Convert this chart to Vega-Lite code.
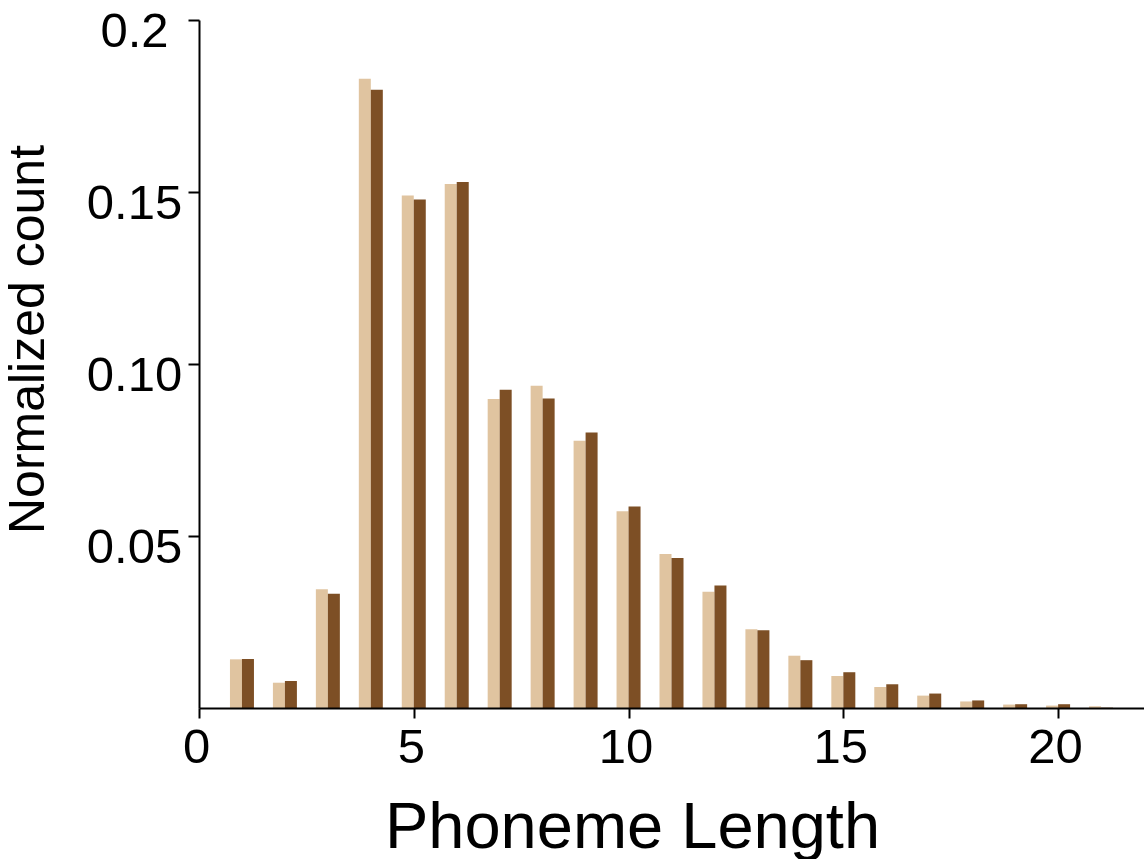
{
  "$schema": "https://vega.github.io/schema/vega-lite/v6.json",
  "autosize": "none",
  "width": 945,
  "height": 688,
  "padding": {"left": 199, "top": 20, "right": 0, "bottom": 151},
  "background": "white",
  "config": {
    "view": {"stroke": null},
    "font": "Liberation Sans"
  },
  "data": {
    "values": [
      {"length": 1, "a": 0.01415, "b": 0.01424},
      {"length": 2, "a": 0.00735, "b": 0.00785},
      {"length": 3, "a": 0.0345, "b": 0.0332},
      {"length": 4, "a": 0.1829, "b": 0.1797},
      {"length": 5, "a": 0.1490, "b": 0.1478},
      {"length": 6, "a": 0.1523, "b": 0.1529},
      {"length": 7, "a": 0.0898, "b": 0.0925},
      {"length": 8, "a": 0.0937, "b": 0.0900},
      {"length": 9, "a": 0.0777, "b": 0.0801},
      {"length": 10, "a": 0.0572, "b": 0.0586},
      {"length": 11, "a": 0.0448, "b": 0.0436},
      {"length": 12, "a": 0.0338, "b": 0.0356},
      {"length": 13, "a": 0.0229, "b": 0.0226},
      {"length": 14, "a": 0.0152, "b": 0.0139},
      {"length": 15, "a": 0.0093, "b": 0.0104},
      {"length": 16, "a": 0.0061, "b": 0.0069},
      {"length": 17, "a": 0.0036, "b": 0.0042},
      {"length": 18, "a": 0.0019, "b": 0.0022},
      {"length": 19, "a": 0.0010, "b": 0.0011},
      {"length": 20, "a": 0.0007, "b": 0.0011},
      {"length": 21, "a": 0.0005, "b": 0.0001}
    ]
  },
  "layer": [
    {
      "mark": {"type": "bar", "width": 12, "xOffset": -6, "color": "#e0c4a0"},
      "encoding": {
        "x": {
          "field": "length", "type": "quantitative",
          "scale": {"domain": [0, 22], "nice": false, "zero": true, "padding": 0},
          "axis": {
            "title": "Phoneme Length",
            "values": [0, 5, 10, 15, 20],
            "format": "d",
            "grid": false,
            "zindex": 1,
            "domainColor": "black", "domainWidth": 2,
            "tickColor": "black", "tickWidth": 2, "tickSize": 10,
            "labelFont": "Liberation Sans", "labelFontSize": 49, "labelColor": "black",
            "labelPadding": 5, "labelFlush": false, "labelOffset": -3,
            "titleFont": "Liberation Sans", "titleFontSize": 65, "titleFontWeight": "normal", "titleColor": "black",
            "titleX": 433, "titleY": 139, "titleBaseline": "alphabetic", "titleAlign": "center", "titleAnchor": null
          }
        },
        "y": {
          "field": "a", "type": "quantitative",
          "scale": {"domain": [0, 0.2], "nice": false},
          "axis": {
            "title": "Normalized count",
            "values": [0.05, 0.1, 0.15, 0.2],
            "labelExpr": "datum.value == 0.2 ? '0.2' : format(datum.value, '.2f')",
            "grid": false,
            "zindex": 1,
            "domainColor": "black", "domainWidth": 2,
            "tickColor": "black", "tickWidth": 2, "tickSize": 11,
            "labelFont": "Liberation Sans", "labelFontSize": 49, "labelColor": "black",
            "labelAlign": "center", "labelBaseline": "middle", "labelPadding": 54, "labelOffset": 11,
            "titleFont": "Liberation Sans", "titleFontSize": 50, "titleFontWeight": "normal", "titleColor": "black",
            "titleX": -156, "titleY": 319, "titleAngle": 270, "titleBaseline": "alphabetic", "titleAlign": "center", "titleAnchor": null
          }
        }
      }
    },
    {
      "mark": {"type": "bar", "width": 12, "xOffset": 6, "color": "#7d4f25"},
      "encoding": {
        "x": {"field": "length", "type": "quantitative"},
        "y": {"field": "b", "type": "quantitative"}
      }
    }
  ]
}
